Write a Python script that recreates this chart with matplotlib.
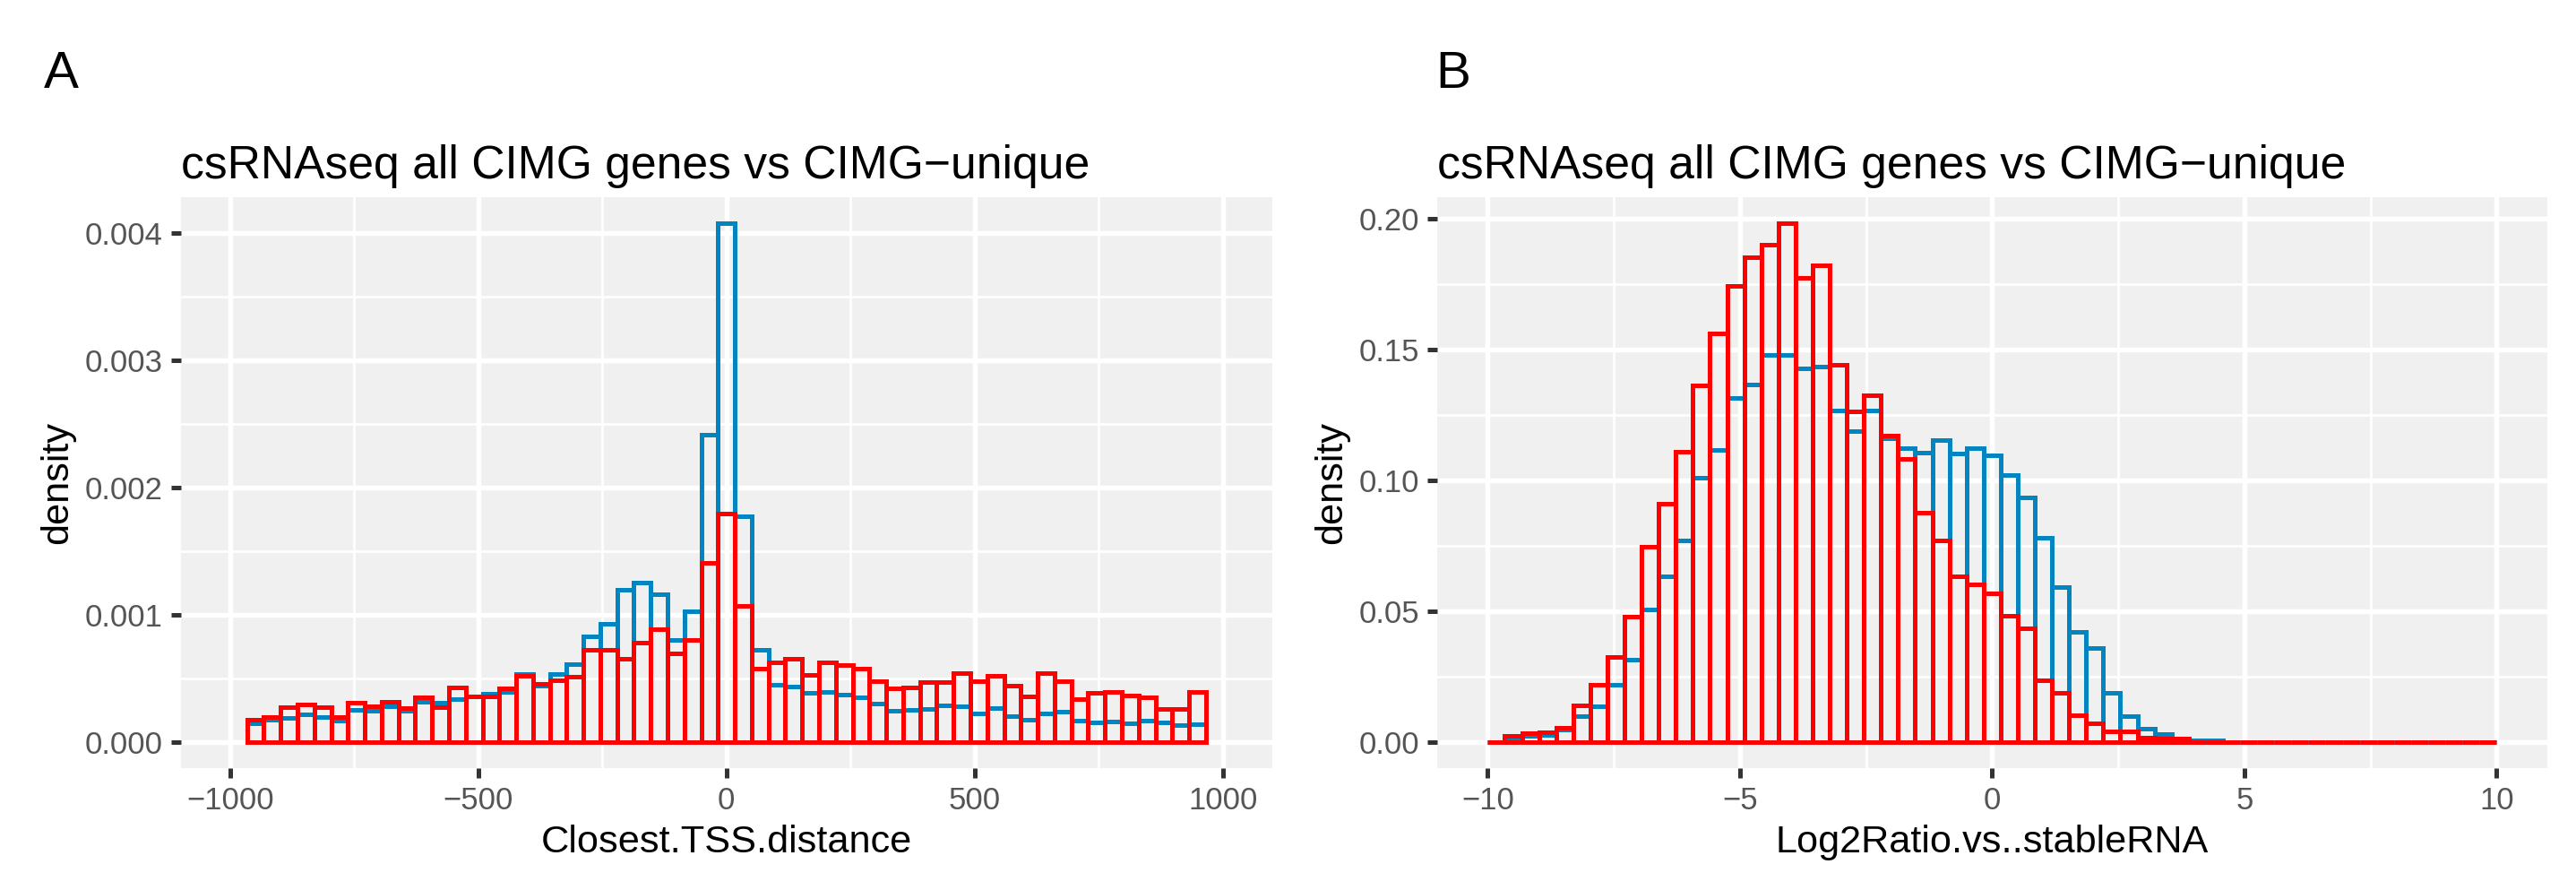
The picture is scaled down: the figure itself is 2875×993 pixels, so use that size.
#!/usr/bin/env python3
"""
csRNAseq histograms: all CIMG genes vs CIMG-unique
Two panels (A: distance to closest TSS, B: log2 ratio vs stable RNA)
"""

import matplotlib
matplotlib.use('Agg')
import matplotlib.pyplot as plt
import numpy as np

plt.rcParams['font.family'] = ['Liberation Sans', 'DejaVu Sans']
plt.rcParams['axes.unicode_minus'] = True

# ---------------- data (density per bin) ----------------
# Panel A: Closest.TSS.distance, xlim(-1000, 1000), 60 bins -> 57 bars shown
tss_edges = np.linspace(-1000, 1000, 60)[1:-1]
tss_all = [0.000146, 0.000177, 0.000192, 0.000220, 0.000201, 0.000171, 0.000253,
           0.000247, 0.000283, 0.000250, 0.000315, 0.000312, 0.000336, 0.000360,
           0.000384, 0.000397, 0.000537, 0.000445, 0.000537, 0.000614, 0.000830,
           0.000930, 0.001196, 0.001257, 0.001165, 0.000806, 0.001031, 0.002417,
           0.004077, 0.001776, 0.000726, 0.000452, 0.000436, 0.000391, 0.000397,
           0.000375, 0.000354, 0.000305, 0.000244, 0.000256, 0.000262, 0.000290,
           0.000281, 0.000226, 0.000268, 0.000207, 0.000177, 0.000226, 0.000241,
           0.000171, 0.000152, 0.000164, 0.000149, 0.000168, 0.000152, 0.000131,
           0.000140]
tss_unique = [0.000177, 0.000201, 0.000274, 0.000293, 0.000274, 0.000195, 0.000308,
              0.000280, 0.000315, 0.000265, 0.000350, 0.000274, 0.000427, 0.000363,
              0.000360, 0.000420, 0.000525, 0.000457, 0.000490, 0.000512, 0.000726,
              0.000726, 0.000653, 0.000781, 0.000891, 0.000695, 0.000806, 0.001410,
              0.001800, 0.001068, 0.000580, 0.000626, 0.000653, 0.000531, 0.000626,
              0.000605, 0.000580, 0.000482, 0.000420, 0.000430, 0.000470, 0.000470,
              0.000540, 0.000476, 0.000525, 0.000442, 0.000360, 0.000540, 0.000482,
              0.000336, 0.000391, 0.000397, 0.000369, 0.000350, 0.000262, 0.000259,
              0.000397]

# Panel B: Log2Ratio.vs..stableRNA, range (-10, 10), 59 bars
ratio_edges = np.linspace(-10, 10, 60)
ratio_all = [0.0001, 0.0011, 0.0024, 0.0027, 0.0049, 0.0101, 0.0137, 0.0220, 0.0315,
             0.0508, 0.0632, 0.0770, 0.1010, 0.1115, 0.1315, 0.1367, 0.1479, 0.1479,
             0.1427, 0.1435, 0.1266, 0.1188, 0.1266, 0.1161, 0.1122, 0.1106, 0.1155,
             0.1103, 0.1122, 0.1096, 0.1021, 0.0935, 0.0779, 0.0591, 0.0420, 0.0359,
             0.0190, 0.0098, 0.0052, 0.0030, 0.0015, 0.0007, 0.0007, 0, 0, 0, 0, 0,
             0, 0, 0, 0, 0, 0, 0, 0, 0, 0, 0]
ratio_unique = [0.0001, 0.0024, 0.0036, 0.0038, 0.0056, 0.0142, 0.0220, 0.0327, 0.0481,
                0.0748, 0.0911, 0.1110, 0.1363, 0.1562, 0.1743, 0.1853, 0.1900, 0.1981,
                0.1775, 0.1820, 0.1443, 0.1265, 0.1326, 0.1170, 0.1081, 0.0876, 0.0772,
                0.0632, 0.0601, 0.0567, 0.0484, 0.0435, 0.0238, 0.0187, 0.0104, 0.0071,
                0.0041, 0.0040, 0.0018, 0.0015, 0.0015, 0, 0, 0, 0, 0, 0, 0, 0,
                0, 0, 0, 0, 0, 0, 0, 0, 0, 0]

TITLE = 'csRNAseq all CIMG genes vs CIMG\u2212unique'
BLUE = '#0085C0'
RED = '#FF0000'
PANEL_BG = '#F0F0F0'

W, H = 2875, 993


def style_axes(ax, xmajor, xminor, ymajor, yminor, yfmt):
    ax.set_facecolor(PANEL_BG)
    for s in ax.spines.values():
        s.set_visible(False)
    ax.set_xticks(xmajor)
    ax.set_xticks(xminor, minor=True)
    ax.set_yticks(ymajor)
    ax.set_yticks(yminor, minor=True)
    ax.set_yticklabels([yfmt.format(v) for v in ymajor])
    ax.set_xticklabels([f'{v:g}'.replace('-', '\u2212') for v in xmajor])
    ax.grid(True, which='major', color='white', linewidth=1.3)
    ax.grid(True, which='minor', color='white', linewidth=0.65)
    ax.set_axisbelow(True)
    ax.tick_params(which='major', length=2.6, width=1.2, color='#333333',
                   labelsize=8.3, labelcolor='#555555', pad=2.1)
    ax.tick_params(which='minor', length=0)


def draw_hist(ax, edges, all_vals, uniq_vals):
    widths = np.diff(edges)
    ax.bar(edges[:-1], all_vals, width=widths, align='edge', fill=False,
           edgecolor=BLUE, linewidth=1.2, joinstyle='miter')
    ax.bar(edges[:-1], uniq_vals, width=widths, align='edge', fill=False,
           edgecolor=RED, linewidth=1.2, joinstyle='miter')


def main():
    fig = plt.figure(figsize=(W / 300, H / 300), dpi=300)

    top, bottom = 220.4, 857.0
    ax_a = fig.add_axes([201.5 / W, (H - bottom) / H, (1420 - 201.5) / W,
                         (bottom - top) / H])
    ax_b = fig.add_axes([1604.1 / W, (H - bottom) / H, (2842.6 - 1604.1) / W,
                         (bottom - top) / H])

    # Panel A
    draw_hist(ax_a, tss_edges, tss_all, tss_unique)
    ymax_a = max(tss_all)
    ax_a.set_xlim(-1100, 1100)
    ax_a.set_ylim(-0.05 * ymax_a, 1.05 * ymax_a)
    style_axes(ax_a, [-1000, -500, 0, 500, 1000], [-750, -250, 250, 750],
               [0, 0.001, 0.002, 0.003, 0.004],
               [0.0005, 0.0015, 0.0025, 0.0035], '{:.3f}')
    ax_a.set_xlabel('Closest.TSS.distance', fontsize=10.4, labelpad=2.6)
    ax_a.set_ylabel('density', fontsize=10.4, labelpad=2.6)
    ax_a.set_title(TITLE, loc='left', fontsize=12.4, pad=5.2)

    # Panel B
    draw_hist(ax_b, ratio_edges, ratio_all, ratio_unique)
    ymax_b = max(ratio_unique)
    ax_b.set_xlim(-11, 11)
    ax_b.set_ylim(-0.05 * ymax_b, 1.05 * ymax_b)
    style_axes(ax_b, [-10, -5, 0, 5, 10], [-7.5, -2.5, 2.5, 7.5],
               [0, 0.05, 0.10, 0.15, 0.20],
               [0.025, 0.075, 0.125, 0.175], '{:.2f}')
    ax_b.set_xlabel('Log2Ratio.vs..stableRNA', fontsize=10.4, labelpad=2.6)
    ax_b.set_ylabel('density', fontsize=10.4, labelpad=2.6)
    ax_b.set_title(TITLE, loc='left', fontsize=12.4, pad=5.2)

    # panel tags
    fig.text(49 / W, (H - 98) / H, 'A', fontsize=14, va='baseline', ha='left')
    fig.text(1602 / W, (H - 98) / H, 'B', fontsize=14, va='baseline', ha='left')

    fig.savefig('out.png', dpi=300, facecolor='white')
    plt.close(fig)


if __name__ == '__main__':
    main()
